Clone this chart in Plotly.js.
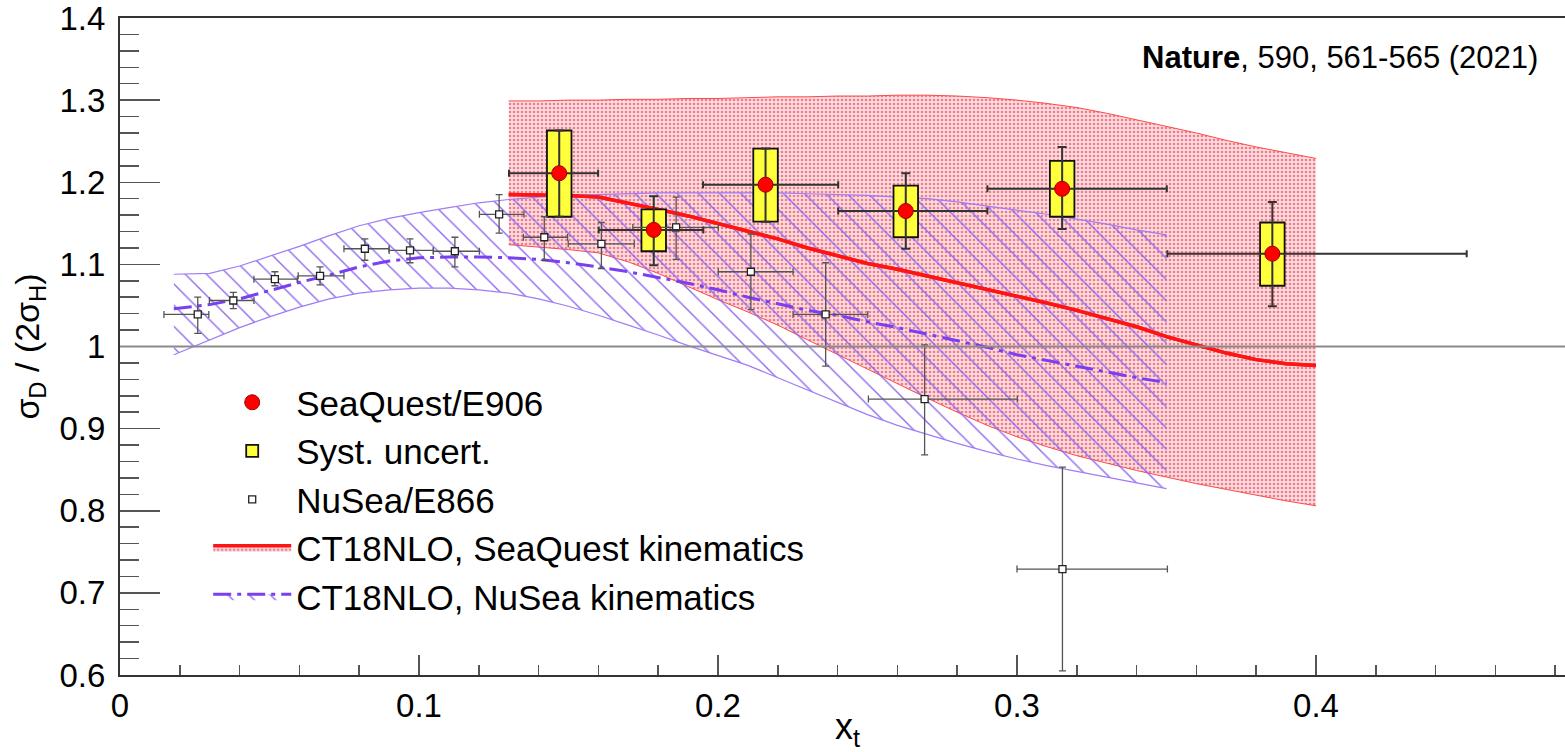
<!DOCTYPE html>
<html>
<head>
<meta charset="utf-8">
<script src="https://cdn.plot.ly/plotly-3.0.1.min.js"></script>
<style>
  html, body { margin: 0; padding: 0; overflow: hidden; background: #fff; }
  #chart { width: 1640px; height: 752px; }
</style>
</head>
<body>
<div id="chart"></div>
<script>
// ---------------- DATA ----------------
// SeaQuest/E906 points
const sqX      = [0.1469, 0.1785, 0.2159, 0.2628, 0.3151, 0.3854];
const sqY      = [1.211, 1.142, 1.197, 1.165, 1.192, 1.113];
const sqXLo    = [0.1301, 0.1601, 0.1950, 0.2402, 0.2901, 0.3503];
const sqXHi    = [0.1599, 0.1951, 0.2402, 0.2901, 0.3501, 0.4504];
const sqStatHi = [1.263, 1.183, 1.241, 1.211, 1.243, 1.176];
const sqStatLo = [1.158, 1.099, 1.152, 1.119, 1.143, 1.049];
const sqSysHi  = [1.263, 1.167, 1.241, 1.196, 1.226, 1.151];
const sqSysLo  = [1.158, 1.116, 1.152, 1.133, 1.158, 1.074];

// NuSea/E866 points
const nuX   = [0.0260, 0.0379, 0.0518, 0.0669, 0.0819, 0.0970, 0.1120, 0.1268, 0.1419, 0.1610, 0.1860, 0.2110, 0.2360, 0.2691, 0.3152];
const nuY   = [1.039, 1.056, 1.082, 1.086, 1.119, 1.117, 1.116, 1.161, 1.133, 1.125, 1.145, 1.091, 1.039, 0.936, 0.729];
const nuXLo = [0.0147, 0.0299, 0.0448, 0.0596, 0.0749, 0.0900, 0.1048, 0.1202, 0.1349, 0.1499, 0.1715, 0.2001, 0.2251, 0.2503, 0.3000];
const nuXHi = [0.0297, 0.0448, 0.0593, 0.0749, 0.0900, 0.1048, 0.1202, 0.1351, 0.1497, 0.1720, 0.2001, 0.2251, 0.2501, 0.3001, 0.3503];
const nuYHi = [1.060, 1.066, 1.091, 1.097, 1.131, 1.131, 1.133, 1.185, 1.158, 1.151, 1.182, 1.137, 1.102, 1.002, 0.853];
const nuYLo = [1.016, 1.046, 1.074, 1.075, 1.105, 1.102, 1.097, 1.138, 1.105, 1.095, 1.106, 1.045, 0.976, 0.868, 0.605];

// CT18NLO, SeaQuest kinematics (band + central)
const ctSqX   = [0.13, 0.14, 0.15, 0.16, 0.17, 0.18, 0.19, 0.20, 0.21, 0.22, 0.23, 0.24, 0.25, 0.26, 0.27, 0.28, 0.29, 0.30, 0.31, 0.32, 0.33, 0.34, 0.35, 0.36, 0.37, 0.38, 0.39, 0.40];
const ctSqMid = [1.185, 1.185, 1.184, 1.182, 1.175, 1.167, 1.159, 1.150, 1.141, 1.131, 1.120, 1.110, 1.101, 1.094, 1.086, 1.078, 1.070, 1.062, 1.053, 1.044, 1.034, 1.024, 1.012, 1.002, 0.992, 0.984, 0.979, 0.977];
const ctSqUp  = [1.299, 1.299, 1.300, 1.300, 1.301, 1.301, 1.302, 1.302, 1.303, 1.304, 1.304, 1.305, 1.305, 1.306, 1.306, 1.305, 1.303, 1.300, 1.296, 1.291, 1.284, 1.276, 1.268, 1.260, 1.251, 1.243, 1.236, 1.229];
const ctSqLo  = [1.124, 1.121, 1.118, 1.114, 1.103, 1.089, 1.073, 1.057, 1.042, 1.026, 1.008, 0.990, 0.973, 0.955, 0.937, 0.920, 0.904, 0.890, 0.878, 0.867, 0.858, 0.849, 0.841, 0.833, 0.826, 0.819, 0.812, 0.806];

// CT18NLO, NuSea kinematics (band + central)
const ctNuX   = [0.018, 0.03, 0.04, 0.05, 0.06, 0.07, 0.08, 0.09, 0.10, 0.11, 0.12, 0.13, 0.14, 0.15, 0.16, 0.17, 0.18, 0.19, 0.20, 0.21, 0.22, 0.23, 0.24, 0.25, 0.26, 0.27, 0.28, 0.29, 0.30, 0.31, 0.32, 0.33, 0.34, 0.35];
const ctNuMid = [1.046, 1.051, 1.058, 1.068, 1.078, 1.087, 1.097, 1.104, 1.108, 1.109, 1.109, 1.108, 1.106, 1.102, 1.097, 1.091, 1.084, 1.077, 1.069, 1.060, 1.052, 1.044, 1.038, 1.030, 1.023, 1.015, 1.007, 0.999, 0.990, 0.983, 0.976, 0.969, 0.962, 0.956];
const ctNuUp  = [1.088, 1.089, 1.098, 1.110, 1.122, 1.135, 1.147, 1.156, 1.163, 1.169, 1.175, 1.179, 1.182, 1.184, 1.185, 1.186, 1.187, 1.187, 1.187, 1.187, 1.187, 1.186, 1.185, 1.184, 1.182, 1.180, 1.176, 1.171, 1.166, 1.161, 1.155, 1.149, 1.142, 1.136];
const ctNuLo  = [0.990, 1.008, 1.023, 1.036, 1.048, 1.058, 1.065, 1.069, 1.071, 1.071, 1.069, 1.065, 1.058, 1.049, 1.038, 1.026, 1.014, 1.001, 0.989, 0.977, 0.962, 0.947, 0.932, 0.917, 0.904, 0.893, 0.882, 0.872, 0.863, 0.855, 0.848, 0.841, 0.834, 0.827];

const xTickVals = [0, 0.1, 0.2, 0.3, 0.4];
const xTickText = ['0', '0.1', '0.2', '0.3', '0.4'];
const yTickVals = [0.6, 0.7, 0.8, 0.9, 1.0, 1.1, 1.2, 1.3, 1.4];
const yTickText = ['0.6', '0.7', '0.8', '0.9', '1', '1.1', '1.2', '1.3', '1.4'];
const unityLevel = 1;
const sysBoxWidth = 0.0082;
const citationText = '<b>Nature</b>, 590, 561-565 (2021)';

// ---------------- STYLE ----------------
const FONT = 'Liberation Sans, Arial, Helvetica, sans-serif';
const X_RANGE = [0, 0.5];
const Y_RANGE = [0.6, 1.4];
const redPattern = { shape: '.', size: 4, solidity: 0.35, fgcolor: '#ee7d8a', bgcolor: '#fbdde1', fillmode: 'replace' };
const purplePattern = { shape: '\\', size: 15, solidity: 0.09, fgcolor: '#8c66ee', bgcolor: 'rgba(255,255,255,0)', fillmode: 'replace' };

const diff = (a, b) => a.map((v, i) => v - b[i]);

const traces = [
  // red band (lower edge, central line with fill, upper edge with fill)
  { x: ctSqX, y: ctSqLo, mode: 'lines', line: { color: '#ff4a4a', width: 1 }, showlegend: false, hoverinfo: 'skip' },
  { x: ctSqX, y: ctSqMid, mode: 'lines', name: 'CT18NLO, SeaQuest kinematics', legendrank: 4,
    line: { color: '#ff1414', width: 3.5 }, fill: 'tonexty', fillcolor: 'rgba(0,0,0,0)', fillpattern: redPattern },
  { x: ctSqX, y: ctSqUp, mode: 'lines', line: { color: '#ff4a4a', width: 1 }, showlegend: false, hoverinfo: 'skip',
    fill: 'tonexty', fillcolor: 'rgba(0,0,0,0)', fillpattern: redPattern },
  // purple hatched band
  { x: ctNuX, y: ctNuLo, mode: 'lines', line: { color: '#a07cf5', width: 1.2 }, showlegend: false, hoverinfo: 'skip' },
  { x: ctNuX, y: ctNuMid, mode: 'lines', name: 'CT18NLO, NuSea kinematics', legendrank: 5,
    line: { color: '#7a3ff0', width: 3, dash: '18px,6px,4px,6px' }, fill: 'tonexty', fillcolor: 'rgba(0,0,0,0)', fillpattern: purplePattern },
  { x: ctNuX, y: ctNuUp, mode: 'lines', line: { color: '#a07cf5', width: 1.2 }, showlegend: false, hoverinfo: 'skip',
    fill: 'tonexty', fillcolor: 'rgba(0,0,0,0)', fillpattern: purplePattern },
  // red central line again on top of the hatching
  { x: ctSqX, y: ctSqMid, mode: 'lines', line: { color: '#ff1414', width: 3.5 }, showlegend: false, hoverinfo: 'skip' },
  // systematic boxes (overlay axes so they sit above the bands)
  { type: 'bar', x: sqX, y: diff(sqSysHi, sqSysLo), base: sqSysLo, width: sqX.map(() => sysBoxWidth),
    xaxis: 'x2', yaxis: 'y2', name: 'Syst. uncert.', legendrank: 2, hoverinfo: 'skip',
    marker: { color: '#ffff3c', line: { color: '#111', width: 1.8 } } },
  // NuSea points
  { x: nuX, y: nuY, mode: 'markers', name: 'NuSea/E866', legendrank: 3, xaxis: 'x2', yaxis: 'y2',
    marker: { symbol: 'square', size: 7, color: '#fff', line: { color: '#222', width: 1.3 } },
    error_x: { type: 'data', symmetric: false, array: diff(nuXHi, nuX), arrayminus: diff(nuX, nuXLo), color: '#555', thickness: 1.3, width: 3.5 },
    error_y: { type: 'data', symmetric: false, array: diff(nuYHi, nuY), arrayminus: diff(nuY, nuYLo), color: '#555', thickness: 1.3, width: 3.5 } },
  // SeaQuest points
  { x: sqX, y: sqY, mode: 'markers', name: 'SeaQuest/E906', legendrank: 1, xaxis: 'x2', yaxis: 'y2',
    marker: { symbol: 'circle', size: 15, color: '#ff0000', line: { color: '#a00000', width: 1 } },
    error_x: { type: 'data', symmetric: false, array: diff(sqXHi, sqX), arrayminus: diff(sqX, sqXLo), color: '#333', thickness: 2, width: 3.5 },
    error_y: { type: 'data', symmetric: false, array: diff(sqStatHi, sqY), arrayminus: diff(sqY, sqStatLo), color: '#333', thickness: 2, width: 4.5 } }
];

const layout = {
  width: 1640, height: 752,
  margin: { l: 120, r: 25, t: 18, b: 77 },
  paper_bgcolor: '#fff', plot_bgcolor: '#fff',
  font: { family: FONT, color: '#000', size: 33 },
  barmode: 'overlay',
  showlegend: true,
  legend: {
    x: 0.059, y: 0.4596, xanchor: 'left', yanchor: 'top',
    bgcolor: 'rgba(0,0,0,0)', borderwidth: 0,
    font: { family: FONT, size: 35, color: '#000' },
    itemwidth: 78, tracegroupgap: 0, traceorder: 'normal'
  },
  xaxis: {
    range: X_RANGE, tickvals: xTickVals, ticktext: xTickText,
    ticks: 'inside', ticklen: 20, tickwidth: 1.5, tickcolor: '#555',
    minor: { ticks: 'inside', ticklen: 10, dtick: 0.02, tick0: 0, tickwidth: 1.5, tickcolor: '#555' },
    showline: true, linecolor: '#333', linewidth: 2, mirror: true,
    showgrid: false, zeroline: false,
    tickfont: { family: FONT, size: 33, color: '#000' },
    title: { text: 'x<sub>t</sub>&nbsp;&nbsp;&nbsp;&nbsp;', font: { family: FONT, size: 36, color: '#000' }, standoff: 26 }
  },
  yaxis: {
    range: Y_RANGE, tickvals: yTickVals, ticktext: yTickText,
    ticks: 'inside', ticklen: 40, tickwidth: 1.5, tickcolor: '#555',
    minor: { ticks: 'inside', ticklen: 19, dtick: 0.02, tick0: 0.6, tickwidth: 1.5, tickcolor: '#555' },
    showline: true, linecolor: '#333', linewidth: 2, mirror: true,
    showgrid: false, zeroline: false,
    tickfont: { family: FONT, size: 33, color: '#000' },
    ticklabelstandoff: 6, ticklabeloverflow: 'allow',
    title: { text: 'σ<sub>D</sub> / (2σ<sub>H</sub>)', font: { family: FONT, size: 34, color: '#000' }, standoff: 10 }
  },
  xaxis2: { overlaying: 'x', range: X_RANGE, visible: false, showgrid: false, zeroline: false },
  yaxis2: { overlaying: 'y', range: Y_RANGE, visible: false, showgrid: false, zeroline: false },
  shapes: [
    { type: 'line', xref: 'paper', yref: 'y', x0: 0, x1: 1, y0: unityLevel, y1: unityLevel,
      line: { color: '#8a8a8a', width: 2 }, layer: 'above' }
  ],
  annotations: [
    { xref: 'x', yref: 'y', x: 0.4749, y: 1.3524, xanchor: 'right', yanchor: 'middle',
      text: citationText, showarrow: false, font: { family: FONT, size: 31, color: '#000' } }
  ]
};

Plotly.newPlot('chart', traces, layout, { staticPlot: true, displayModeBar: false });
</script>
</body>
</html>
